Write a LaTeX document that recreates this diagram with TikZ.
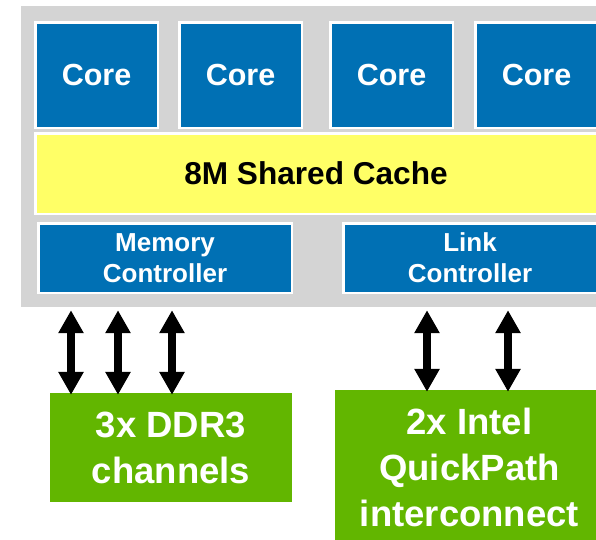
\documentclass[tikz,border=0pt]{standalone}
\usepackage{fontspec}
\setmainfont{Liberation Sans}
\usetikzlibrary{arrows.meta, positioning}
\definecolor{chipgray}{RGB}{212,212,212}
\definecolor{coreblue}{RGB}{0,112,180}
\definecolor{cacheyellow}{RGB}{255,255,102}
\definecolor{iogreen}{RGB}{98,182,0}
\tikzstyle{chipbg}=[rectangle, fill=chipgray, inner sep=0pt]
\tikzstyle{unitbox}=[rectangle, draw=white, line width=2.5pt, fill=coreblue, text=white, inner sep=0pt, align=center]
\tikzstyle{coreblock}=[unitbox, minimum width=122.5pt, minimum height=105.5pt, font=\bfseries\fontsize{30.5}{36}\selectfont]
\tikzstyle{cacheblock}=[unitbox, fill=cacheyellow, text=black, minimum width=561.5pt, minimum height=80.5pt, font=\bfseries\fontsize{31.6}{36}\selectfont]
\tikzstyle{ctrlblock}=[unitbox, minimum width=253.5pt, minimum height=69.5pt, font=\bfseries\fontsize{26}{31}\selectfont]
\tikzstyle{iobox}=[rectangle, fill=iogreen, text=white, inner sep=0pt, align=center, font=\bfseries\fontsize{36.5}{46}\selectfont]
\tikzstyle{buslink}=[<->, >={Triangle[width=24pt,length=23pt]}, line width=8pt, shorten <=3pt, shorten >=-2pt]

\begin{document}
\begin{tikzpicture}[x=1pt, y=-1pt]
  \useasboundingbox (0,0) rectangle (596,539);
  \node[chipbg, minimum width=579pt, minimum height=301pt] (chip) at (310.5,156.5) {};
  \node[coreblock] (core1) at (96.5,75) {Core};
  \node[coreblock] (core2) [right=19pt of core1] {Core};
  \node[coreblock] (core3) [right=26pt of core2] {Core};
  \node[coreblock] (core4) [right=20pt of core3] {Core};
  \node[cacheblock] (cache) [below right=3pt and 0pt of core1.south west] {8M Shared Cache};
  \node[ctrlblock] (mem) at (165,258) {Memory\\Controller};
  \node[ctrlblock] (link) [right=49pt of mem] {Link\\Controller};
  \node[iobox, minimum width=242pt, minimum height=109pt] (ddr) at (171,447.5) {3x DDR3\\channels};
  \node[iobox, minimum width=269pt, minimum height=155pt] (qpi) at (469.5,467.5) {2x Intel\\QuickPath\\interconnect};
  \foreach \x in {71,118,172}
    \draw[buslink] (\x,0 |- chip.south) -- (\x,0 |- ddr.north);
  \foreach \x in {427,508}
    \draw[buslink] (\x,0 |- chip.south) -- (\x,0 |- qpi.north);
\end{tikzpicture}
\end{document}
